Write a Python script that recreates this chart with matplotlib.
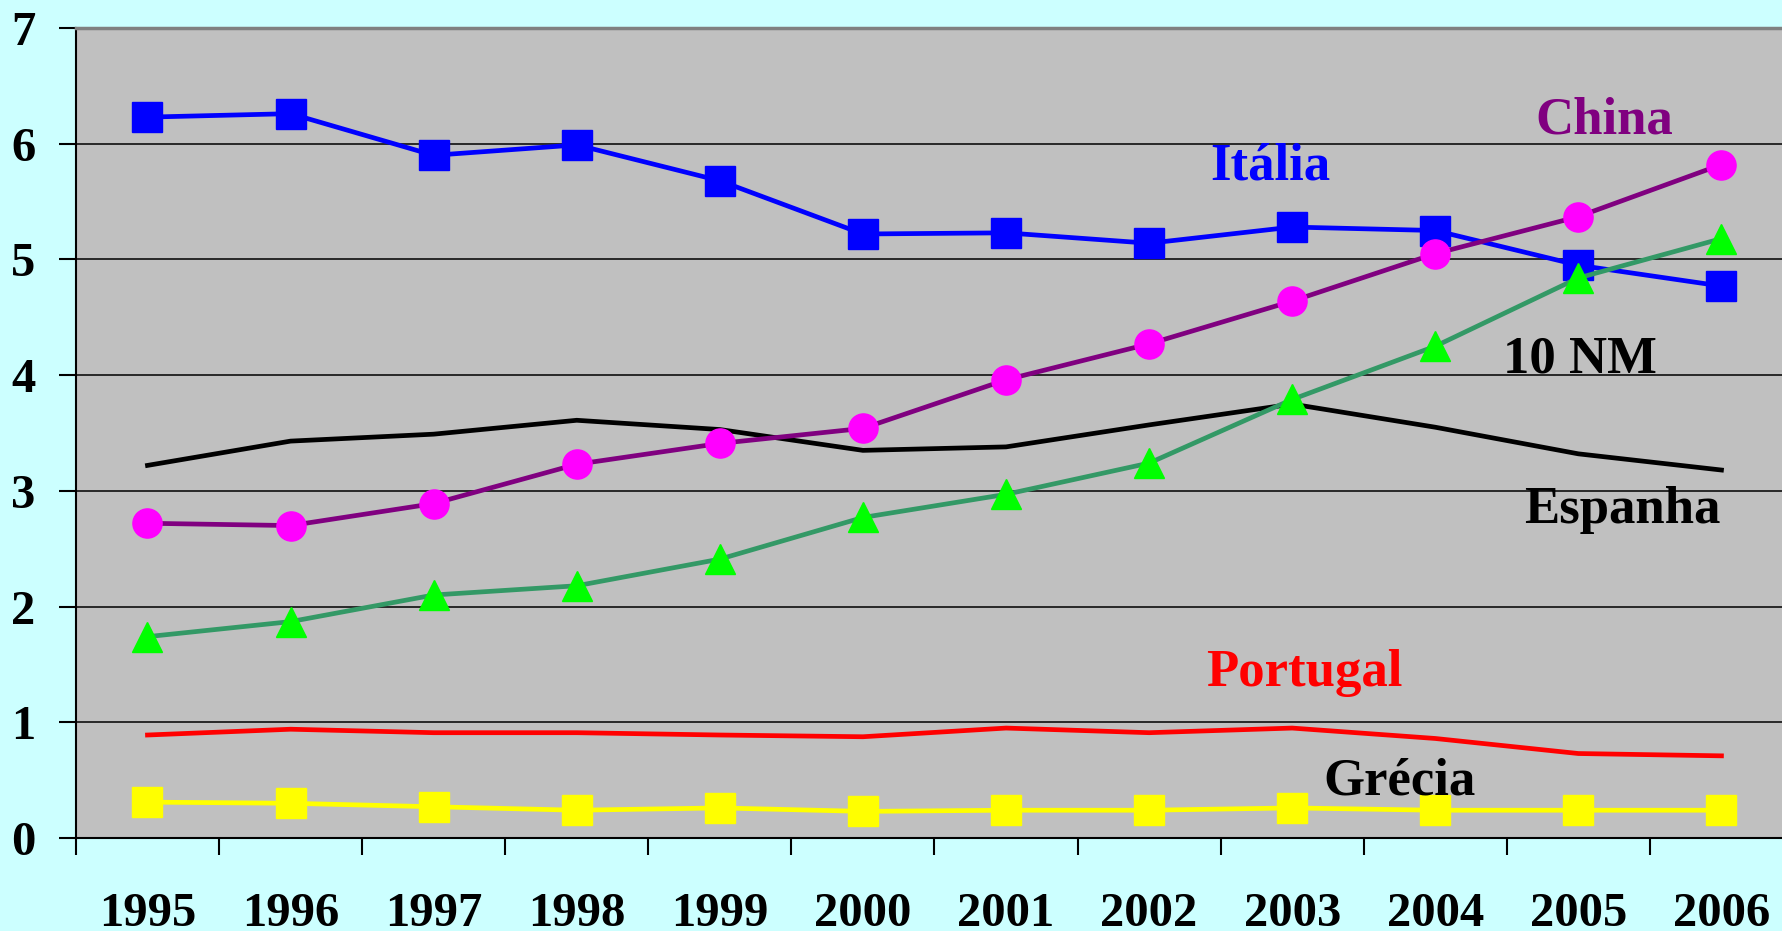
import matplotlib
matplotlib.use('Agg')
import matplotlib.pyplot as plt
import numpy as np

plt.rcParams['font.family'] = ['Liberation Serif', 'DejaVu Serif']
plt.rcParams['font.weight'] = 'bold'

anos = ['1995', '1996', '1997', '1998', '1999', '2000',
        '2001', '2002', '2003', '2004', '2005', '2006']

italia = [6.23, 6.26, 5.90, 5.99, 5.68, 5.22, 5.23, 5.14, 5.28, 5.25, 4.95, 4.77]
china = [2.72, 2.70, 2.89, 3.23, 3.41, 3.54, 3.96, 4.27, 4.64, 5.05, 5.37, 5.82]
dez_nm = [1.74, 1.87, 2.10, 2.18, 2.41, 2.77, 2.97, 3.24, 3.79, 4.25, 4.84, 5.18]
espanha = [3.22, 3.43, 3.49, 3.61, 3.53, 3.35, 3.38, 3.57, 3.75, 3.55, 3.32, 3.18]
portugal = [0.89, 0.94, 0.91, 0.91, 0.89, 0.875, 0.95, 0.91, 0.95, 0.86, 0.73, 0.71]
grecia = [0.31, 0.30, 0.27, 0.24, 0.26, 0.23, 0.24, 0.24, 0.26, 0.24, 0.24, 0.24]

x = np.arange(len(anos))

fig = plt.figure(figsize=(17.83, 9.31), dpi=100, facecolor='#CCFFFF')
ax = fig.add_axes([0.0426, 0.0999, 0.963, 0.870])
ax.set_facecolor('#C0C0C0')

# linhas de grelha
for v in range(1, 7):
    ax.axhline(v, color='black', lw=1.1, zorder=1)

lw = 3.4
ax.plot(x, italia, color='#0000FF', lw=lw, marker='s', ms=21,
        mfc='#0000FF', mec='#0000FF', zorder=3)
ax.plot(x, espanha, color='black', lw=lw, zorder=3)
ax.plot(x, china, color='#800080', lw=lw, marker='o', ms=21,
        mfc='#FF00FF', mec='#FF00FF', zorder=4)
ax.plot(x, dez_nm, color='#339966', lw=lw, marker='^', ms=22,
        mfc='#00FF00', mec='#00FF00', zorder=5)
ax.plot(x, portugal, color='#FF0000', lw=lw, zorder=3)
ax.plot(x, grecia, color='#FFFF00', lw=lw, marker='s', ms=21,
        mfc='#FFFF00', mec='#FFFF00', zorder=3)

fs_lbl = 38
ax.text(7.85, 5.69, 'Itália', color='#0000FF', fontsize=fs_lbl, ha='center', va='baseline')
ax.text(10.18, 6.09, 'China', color='#800080', fontsize=fs_lbl, ha='center', va='baseline')
ax.text(10.01, 4.02, '10 NM', color='black', fontsize=fs_lbl, ha='center', va='baseline')
ax.text(10.31, 2.72, 'Espanha', color='black', fontsize=fs_lbl, ha='center', va='baseline')
ax.text(8.085, 1.31, 'Portugal', color='#FF0000', fontsize=fs_lbl, ha='center', va='baseline')
ax.text(8.75, 0.38, 'Grécia', color='black', fontsize=fs_lbl, ha='center', va='baseline')

ax.set_xlim(-0.5, len(anos) - 0.5)
ax.set_ylim(0, 7)

ax.set_xticks(np.arange(len(anos) + 1) - 0.5)
ax.set_xticklabels([])
ax.set_xticks(x, minor=True)
ax.set_xticklabels(anos, minor=True)
ax.tick_params(axis='x', which='major', direction='out', length=12, width=1.5, color='black')
ax.tick_params(axis='x', which='minor', length=0, pad=39, labelsize=35)

ax.set_yticks(range(0, 8))
ax.tick_params(axis='y', direction='out', length=12, width=1.5, pad=17, labelsize=35)

ax.spines['right'].set_visible(False)
ax.spines['top'].set_color('#808080')
ax.spines['top'].set_linewidth(2.5)
ax.spines['left'].set_linewidth(1.5)
ax.spines['bottom'].set_linewidth(1.5)

fig.savefig('out.png', dpi=100, facecolor=fig.get_facecolor())
